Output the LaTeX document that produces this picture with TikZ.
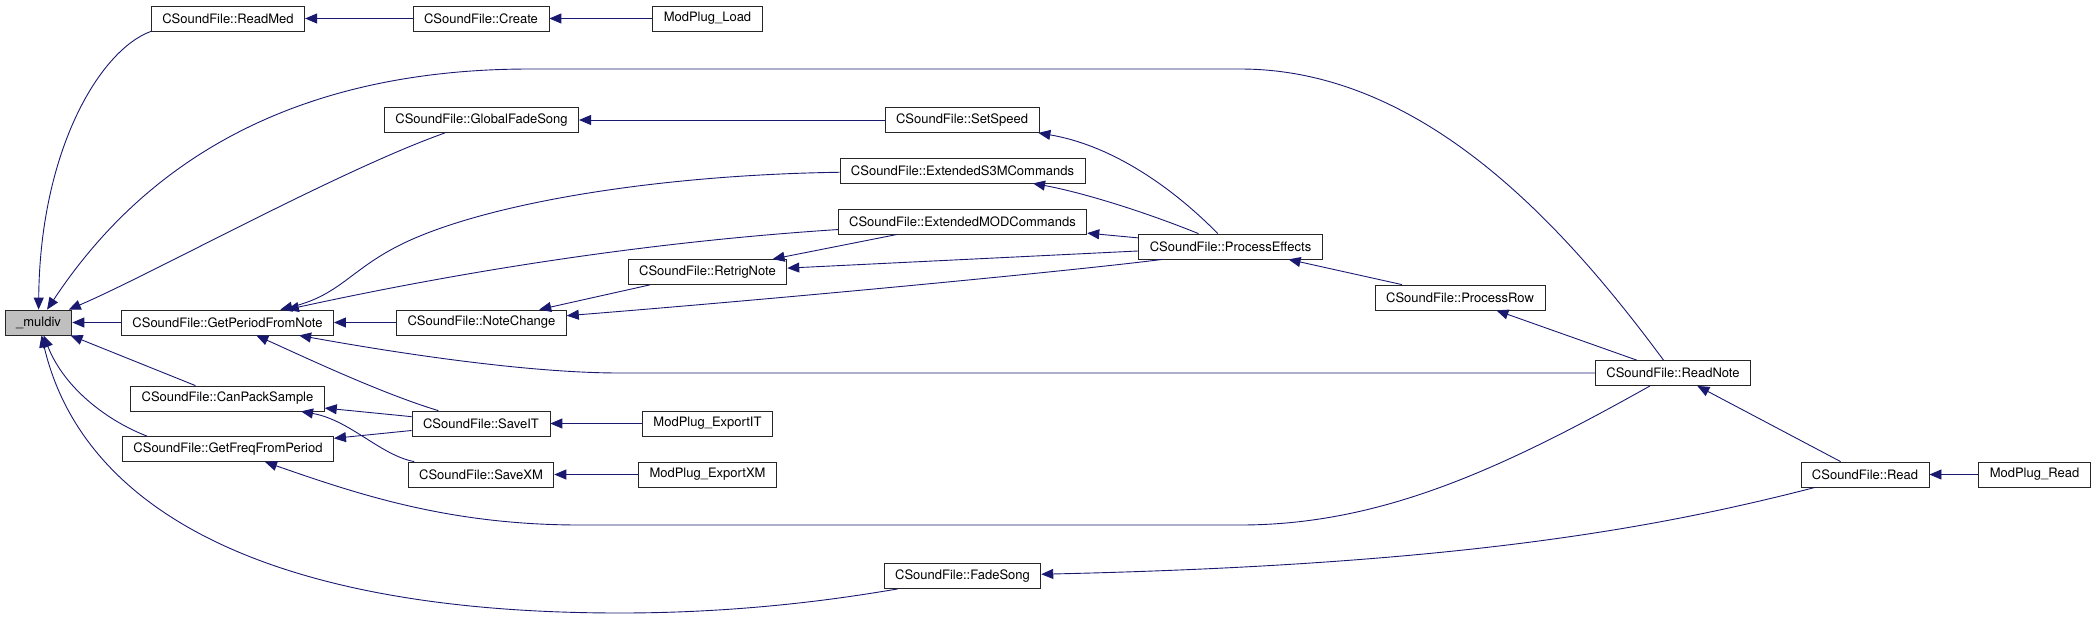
\documentclass[tikz,border=0pt]{standalone}
\usepackage{fontspec}
\setmainfont{TeX Gyre Heros}
\usetikzlibrary{arrows.meta}
\definecolor{edgeblue}{HTML}{191970}
\definecolor{focusgray}{HTML}{BFBFBF}

\begin{document}
\begin{tikzpicture}[
  x=1pt, y=-1pt,
  func/.style={rectangle, draw=black!85, line width=0.8pt, fill=white, minimum height=25pt, inner xsep=11pt, inner ysep=2pt, font=\fontsize{13}{15}\selectfont},
  focus/.style={func, fill=focusgray},
  arrowstyle/.style={-{Triangle[length=12pt, width=10pt]}, draw=edgeblue, line width=0.9pt}
]
\useasboundingbox (0,0) rectangle (2096,619);

\node[focus] (MD) at (38.5,322.5) {\_muldiv};

\node[func] (RM) at (228,18.5) {CSoundFile::ReadMed};
\node[func] (CR) at (481,18.5) {CSoundFile::Create};
\node[func] (ML) at (707.5,18.5) {ModPlug\_Load};

\node[func] (GF) at (481.5,120) {CSoundFile::GlobalFadeSong};
\node[func] (SS) at (962,120) {CSoundFile::SetSpeed};
\node[func] (S3) at (962.5,170.5) {CSoundFile::ExtendedS3MCommands};
\node[func] (MO) at (962.5,221.5) {CSoundFile::ExtendedMODCommands};
\node[func] (PE) at (1230.5,246.5) {CSoundFile::ProcessEffects};
\node[func] (RT) at (707.5,272) {CSoundFile::RetrigNote};
\node[func] (PR) at (1460,297.5) {CSoundFile::ProcessRow};

\node[func] (GP) at (227.5,322.5) {CSoundFile::GetPeriodFromNote};
\node[func] (NC) at (481.5,322.5) {CSoundFile::NoteChange};
\node[func] (RN) at (1673,373) {CSoundFile::ReadNote};

\node[func] (CP) at (227.5,398.5) {CSoundFile::CanPackSample};
\node[func] (SI) at (481,423.5) {CSoundFile::SaveIT};
\node[func] (EI) at (707.5,423.5) {ModPlug\_ExportIT};
\node[func] (GQ) at (228,449) {CSoundFile::GetFreqFromPeriod};
\node[func] (SX) at (481,474.5) {CSoundFile::SaveXM};
\node[func] (EX) at (707.5,474.5) {ModPlug\_ExportXM};
\node[func] (RD) at (1865,474.5) {CSoundFile::Read};
\node[func] (MR) at (2034.5,474.5) {ModPlug\_Read};
\node[func] (FS) at (962.5,576) {CSoundFile::FadeSong};


\draw[arrowstyle] (RM.south west) .. controls (100,50) and (40,150) .. (MD);
\draw[arrowstyle] (RN) .. controls (1560,220) and (1420,69) .. (1240,69) -- (530,69) .. controls (250,69) and (120,200) .. (MD);
\draw[arrowstyle] (GF) .. controls (340,170) and (150,275) .. (MD);
\draw[arrowstyle] (GP) -- (MD);
\draw[arrowstyle] (CP) -- (MD);
\draw[arrowstyle] ([xshift=25pt]GQ.north west) .. controls (110,422) and (65,390) .. (MD);
\draw[arrowstyle] ([xshift=14pt]FS.south west) .. controls (850,597) and (750,613) .. (620,613) .. controls (250,613) and (80,500) .. (MD);

\draw[arrowstyle] (CR) -- (RM);
\draw[arrowstyle] (ML) -- (CR);
\draw[arrowstyle] (SS) -- (GF);

\draw[arrowstyle] (PE) .. controls (1170,185) and (1110,145) .. (SS);
\draw[arrowstyle] (PE) .. controls (1140,210) and (1080,192) .. (S3);
\draw[arrowstyle] (PE) -- (MO);
\draw[arrowstyle] (PE) -- (RT);
\draw[arrowstyle] ([xshift=24pt]PE.south west) .. controls (1080,270) and (800,297) .. (NC);
\draw[arrowstyle] (PR) -- (PE);
\draw[arrowstyle] (RN) -- (PR);

\draw[arrowstyle] (S3) .. controls (650,175) and (480,205) .. (400,245) .. controls (350,270) and (340,295) .. (GP);
\draw[arrowstyle] (MO) .. controls (600,245) and (400,285) .. (GP);
\draw[arrowstyle] (NC) -- (GP);
\draw[arrowstyle] (RN) -- (620,373) .. controls (520,373) and (380,350) .. (GP);
\draw[arrowstyle] (SI) .. controls (380,393) and (300,355) .. (GP);
\draw[arrowstyle] (RT) -- (NC);
\draw[arrowstyle] (MO) -- (RT);

\draw[arrowstyle] (SI) -- (CP);
\draw[arrowstyle] (SX) .. controls (380,455) and (350,420) .. (CP);
\draw[arrowstyle] (SI) -- (GQ);
\draw[arrowstyle] (RN) .. controls (1500,470) and (1380,525) .. (1240,525) -- (580,525) .. controls (450,525) and (360,495) .. (GQ);

\draw[arrowstyle] (EI) -- (SI);
\draw[arrowstyle] (EX) -- (SX);
\draw[arrowstyle] (RD) -- (RN);
\draw[arrowstyle] (MR) -- (RD);
\draw[arrowstyle] (RD) .. controls (1650,530) and (1450,565) .. (FS);

\end{tikzpicture}
\end{document}
